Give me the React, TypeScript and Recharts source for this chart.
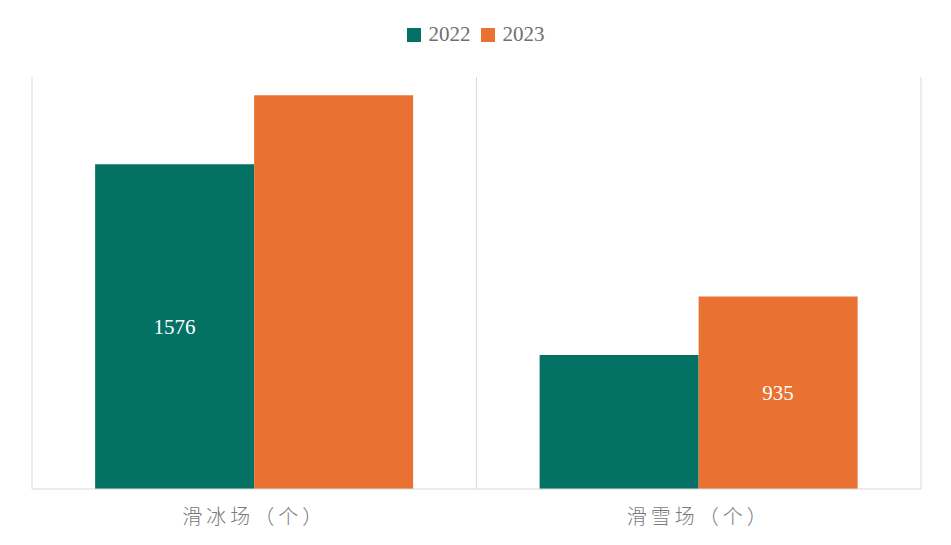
import React from "react";
import { Bar, BarChart, CartesianGrid, LabelList, XAxis, YAxis } from "recharts";

const categories = ["滑冰场（个）", "滑雪场（个）"];
const values2022 = [1576, 650];
const values2023 = [1912, 935];
const show2022 = [true, false];
const show2023 = [false, true];
const seriesNames = ["2022", "2023"];
const seriesColors = ["#037264", "#e97132"];

const data = categories.map((name, i) => ({
  name,
  v2022: values2022[i],
  v2023: values2023[i],
}));

const serif = "'Liberation Serif', 'DejaVu Serif', serif";
const cjk = "'Noto Sans CJK SC', 'Noto Sans', sans-serif";

function makeLabel(show: boolean[]) {
  return (props: any) => {
    const { x, y, width, height, value, index } = props;
    if (!show[index]) return null;
    return (
      <text
        x={Number(x) + Number(width) / 2}
        y={Number(y) + Number(height) / 2}
        textAnchor="middle"
        dominantBaseline="central"
        fill="#ffffff"
        fontFamily={serif}
        fontSize={21}
      >
        {value}
      </text>
    );
  };
}

function CategoryTick(props: any) {
  const { x, y, payload } = props;
  return (
    <text
      x={x}
      y={y}
      dy={27}
      textAnchor="middle"
      fill="#7a7a7a"
      fontFamily={cjk}
      fontSize={20}
      fontWeight={300}
      style={{ letterSpacing: 4 }}
    >
      {payload.value}
    </text>
  );
}

export default function App() {
  return (
    <div style={{ position: "relative", width: 951, height: 545, background: "#fff" }}>
      <style>{`body{margin:0}`}</style>
      <div
        style={{
          position: "absolute",
          top: 22,
          left: 0,
          width: 951,
          display: "flex",
          justifyContent: "center",
          gap: 10,
          fontFamily: serif,
          fontSize: 21,
          color: "#707070",
        }}
      >
        {seriesNames.map((n, i) => (
          <span key={n} style={{ display: "flex", alignItems: "center", gap: 8 }}>
            <span style={{ width: 14, height: 14, background: seriesColors[i], display: "inline-block" }} />
            {n}
          </span>
        ))}
      </div>
      <BarChart
        width={951}
        height={545}
        data={data}
        margin={{ top: 77, right: 30, bottom: 6, left: 32 }}
        barCategoryGap="14.2%"
        barGap={0}
      >
        <CartesianGrid
          horizontal={false}
          stroke="#d9d9d9"
          verticalCoordinatesGenerator={({ offset }: any) => [
            offset.left,
            offset.left + offset.width / 2,
            offset.left + offset.width,
          ]}
        />
        <XAxis
          dataKey="name"
          height={50}
          axisLine={{ stroke: "#d9d9d9" }}
          tickLine={false}
          tick={<CategoryTick />}
        />
        <YAxis hide domain={[0, 2000]} />
        <Bar dataKey="v2022" name={seriesNames[0]} fill={seriesColors[0]} isAnimationActive={false}>
          <LabelList dataKey="v2022" content={makeLabel(show2022)} />
        </Bar>
        <Bar dataKey="v2023" name={seriesNames[1]} fill={seriesColors[1]} isAnimationActive={false}>
          <LabelList dataKey="v2023" content={makeLabel(show2023)} />
        </Bar>
      </BarChart>
    </div>
  );
}
